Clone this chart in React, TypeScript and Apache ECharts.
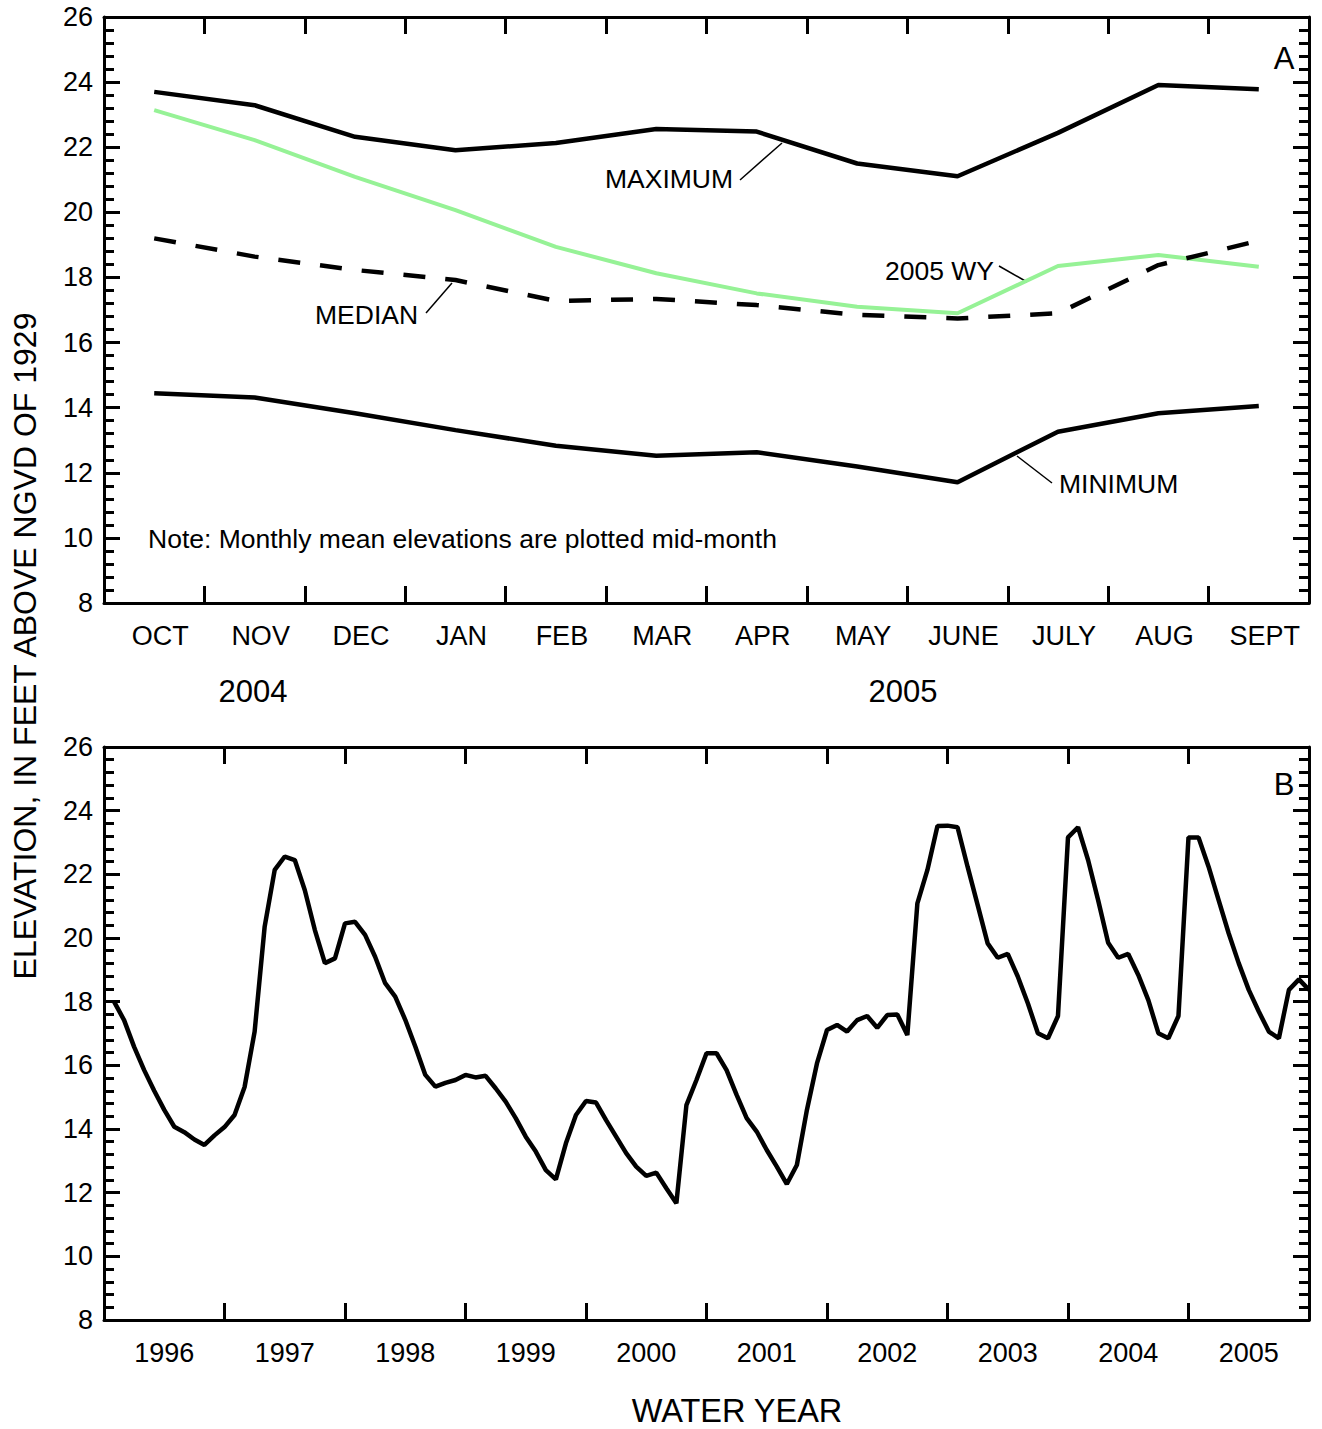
import React, { useEffect, useRef } from "react";
import * as echarts from "echarts";

const MONTHS = ["OCT", "NOV", "DEC", "JAN", "FEB", "MAR", "APR", "MAY", "JUNE", "JULY", "AUG", "SEPT"];
const MAXIMUM = [23.7, 23.29, 22.32, 21.91, 22.13, 22.56, 22.48, 21.5, 21.11, 22.44, 23.91, 23.78];
const MEDIAN = [19.2, 18.64, 18.23, 17.92, 17.28, 17.34, 17.15, 16.85, 16.74, 16.9, 18.38, 19.13];
const MINIMUM = [14.44, 14.31, 13.83, 13.31, 12.83, 12.52, 12.63, 12.19, 11.71, 13.26, 13.83, 14.05];
const WY2005 = [23.14, 22.22, 21.09, 20.07, 18.94, 18.13, 17.51, 17.1, 16.9, 18.35, 18.69, 18.33];

const WATER_YEARS = ["1996", "1997", "1998", "1999", "2000", "2001", "2002", "2003", "2004", "2005"];
// monthly mean elevations, Oct 1995 .. Sep 2005 (plotted at end of month)
const MONTHLY_ELEV = [
  18.0, 17.42, 16.58, 15.85, 15.2, 14.6, 14.07, 13.9, 13.67, 13.5, 13.8, 14.06,
  14.44, 15.32, 17.06, 20.36, 22.14, 22.56, 22.45, 21.5, 20.25, 19.21, 19.36, 20.46,
  20.51, 20.1, 19.41, 18.58, 18.16, 17.43, 16.59, 15.7, 15.33, 15.45, 15.54, 15.7,
  15.62, 15.67, 15.28, 14.86, 14.34, 13.76, 13.29, 12.71, 12.42, 13.55, 14.44, 14.88,
  14.83, 14.28, 13.76, 13.24, 12.82, 12.53, 12.63, 12.14, 11.67, 14.75, 15.54, 16.38,
  16.38, 15.85, 15.07, 14.34, 13.92, 13.34, 12.82, 12.27, 12.87, 14.6, 16.06, 17.11,
  17.27, 17.06, 17.42, 17.55, 17.18, 17.58, 17.6, 16.95, 21.09, 22.14, 23.52, 23.53,
  23.48, 22.24, 21.04, 19.83, 19.38, 19.5, 18.79, 17.95, 17.01, 16.85, 17.55, 23.16,
  23.48, 22.45, 21.19, 19.85, 19.38, 19.5, 18.84, 18.05, 17.01, 16.85, 17.55, 23.16,
  23.16, 22.24, 21.19, 20.15, 19.21, 18.37, 17.69, 17.06, 16.85, 18.37, 18.7, 18.37,
];

const FONT = "'Liberation Sans', Arial, Helvetica, sans-serif";
const TICK_FONT = 27;
const NOTE_FONT = 26.5;

const axisLine = { show: true, onZero: false, lineStyle: { color: "#000", width: 3 } };

function yAxisDef(gridIndex: number, position: "left" | "right", showLabels: boolean) {
  return {
    type: "value",
    gridIndex,
    position,
    min: 8,
    max: 26,
    interval: 2,
    axisLine,
    axisTick: { show: true, inside: true, length: 16, lineStyle: { color: "#000", width: 3 } },
    minorTick: { show: true, splitNumber: 5, length: 10, lineStyle: { color: "#000", width: 3 } },
    splitLine: { show: false },
    minorSplitLine: { show: false },
    axisLabel: {
      show: showLabels,
      color: "#000",
      fontSize: TICK_FONT,
      fontFamily: FONT,
      margin: 11,
    },
  };
}

function text(x: number, y: number, t: string, size: number, align = "left", extra: any = {}) {
  return {
    type: "text",
    x,
    y,
    ...extra,
    style: {
      text: t,
      fontSize: size,
      fontFamily: FONT,
      fill: "#000",
      align,
      verticalAlign: "middle",
      textAlign: align,
      textVerticalAlign: "middle",
    },
  };
}

function leader(x1: number, y1: number, x2: number, y2: number) {
  return {
    type: "line",
    shape: { x1, y1, x2, y2 },
    style: { stroke: "#000", lineWidth: 1.5 },
  };
}

export default function App() {
  const ref = useRef<HTMLDivElement>(null);

  useEffect(() => {
    if (!ref.current) return;
    const chart = echarts.init(ref.current, null, { renderer: "svg" });
    const tick = { show: true, inside: true, length: 17, lineStyle: { color: "#000", width: 3 } };
    const option: any = {
      animation: false,
      backgroundColor: "#fff",
      textStyle: { fontFamily: FONT },
      grid: [
        { left: 104, top: 17, width: 1205, height: 586 },
        { left: 104, top: 747, width: 1205, height: 573 },
      ],
      xAxis: [
        {
          type: "category",
          gridIndex: 0,
          position: "bottom",
          data: MONTHS,
          boundaryGap: true,
          axisLine,
          axisTick: tick,
          axisLabel: {
            color: "#000",
            fontSize: TICK_FONT,
            fontFamily: FONT,
            margin: 19,
            interval: 0,
            padding: [0, 0, 0, 12],
          },
          splitLine: { show: false },
        },
        {
          type: "category",
          gridIndex: 0,
          position: "top",
          data: MONTHS,
          boundaryGap: true,
          axisLine,
          axisTick: tick,
          axisLabel: { show: false },
          splitLine: { show: false },
        },
        {
          type: "value",
          gridIndex: 1,
          position: "bottom",
          min: 0,
          max: 120,
          interval: 12,
          axisLine,
          axisTick: tick,
          axisLabel: { show: false },
          splitLine: { show: false },
        },
        {
          type: "category",
          gridIndex: 1,
          position: "bottom",
          data: WATER_YEARS,
          boundaryGap: true,
          axisLine: { show: false },
          axisTick: { show: false },
          axisLabel: { color: "#000", fontSize: TICK_FONT, fontFamily: FONT, margin: 19, interval: 0 },
          splitLine: { show: false },
        },
        {
          type: "value",
          gridIndex: 1,
          position: "top",
          min: 0,
          max: 120,
          interval: 12,
          axisLine,
          axisTick: tick,
          axisLabel: { show: false },
          splitLine: { show: false },
        },
      ],
      yAxis: [
        yAxisDef(0, "left", true),
        yAxisDef(0, "right", false),
        yAxisDef(1, "left", true),
        yAxisDef(1, "right", false),
      ],
      series: [
        {
          name: "2005 WY",
          type: "line",
          xAxisIndex: 0,
          yAxisIndex: 0,
          data: WY2005,
          symbol: "none",
          lineStyle: { color: "#96F296", width: 4 },
          z: 2,
        },
        {
          name: "MAXIMUM",
          type: "line",
          xAxisIndex: 0,
          yAxisIndex: 0,
          data: MAXIMUM,
          symbol: "none",
          lineStyle: { color: "#000", width: 4.5 },
          z: 3,
        },
        {
          name: "MEDIAN",
          type: "line",
          xAxisIndex: 0,
          yAxisIndex: 0,
          data: MEDIAN,
          symbol: "none",
          lineStyle: { color: "#000", width: 4.5, type: [22, 20] },
          z: 3,
        },
        {
          name: "MINIMUM",
          type: "line",
          xAxisIndex: 0,
          yAxisIndex: 0,
          data: MINIMUM,
          symbol: "none",
          lineStyle: { color: "#000", width: 4.5 },
          z: 3,
        },
        {
          name: "Monthly elevation",
          type: "line",
          xAxisIndex: 2,
          yAxisIndex: 2,
          data: MONTHLY_ELEV.map((v, i) => [i + 1, v]),
          symbol: "none",
          lineStyle: { color: "#000", width: 4.5 },
          z: 3,
        },
      ],
      graphic: [
        text(25, 646, "ELEVATION, IN FEET ABOVE NGVD OF 1929", 32, "center", { rotation: Math.PI / 2 }),
        text(1284, 58, "A", 31, "center"),
        text(1284, 784, "B", 31, "center"),
        text(605, 179, "MAXIMUM", NOTE_FONT),
        leader(740, 180, 782, 143),
        text(315, 315, "MEDIAN", NOTE_FONT),
        leader(426, 313, 452, 283),
        text(885, 271, "2005 WY", NOTE_FONT),
        leader(999, 266, 1027, 282),
        text(1059, 484, "MINIMUM", NOTE_FONT),
        leader(1017, 456, 1052, 483),
        text(148, 539, "Note: Monthly mean elevations are plotted mid-month", NOTE_FONT),
        text(253, 691, "2004", 31, "center"),
        text(903, 691, "2005", 31, "center"),
        text(737, 1411, "WATER YEAR", 32.5, "center"),
      ],
    };
    chart.setOption(option);
    return () => chart.dispose();
  }, []);

  return (
    <div
      ref={ref}
      style={{ position: "absolute", left: 0, top: 0, width: 1322, height: 1429, background: "#fff" }}
    />
  );
}
